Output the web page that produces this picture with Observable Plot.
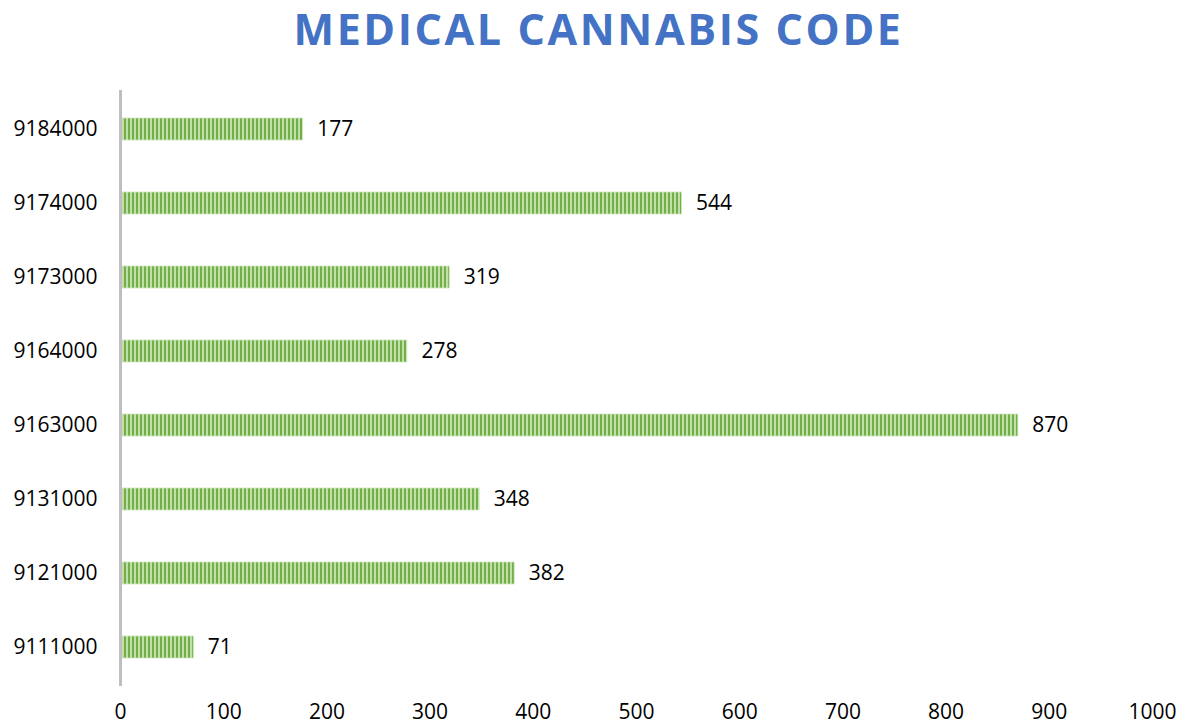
<!DOCTYPE html>
<html>
<head>
<meta charset="utf-8">
<script src="https://cdn.jsdelivr.net/npm/d3@7"></script>
<script src="https://cdn.jsdelivr.net/npm/@observablehq/plot@0.6"></script>
<style>
  html, body { margin: 0; padding: 0; background: #fff; }
  #title {
    font-family: "Open Sans", sans-serif;
    font-weight: 700;
    font-size: 43px;
    line-height: 58px;
    height: 58px;
    margin-bottom: 12px;
    letter-spacing: 2.6px;
    color: #4472C4;
    text-align: center;
    width: 1189px;
    padding-left: 8px;
    box-sizing: border-box;
  }
  #chart svg { display: block; }
</style>
</head>
<body>
<div id="title">MEDICAL CANNABIS CODE</div>
<div id="chart"></div>
<script>
const codes = ["9184000", "9174000", "9173000", "9164000", "9163000", "9131000", "9121000", "9111000"];
const counts = [177, 544, 319, 278, 870, 348, 382, 71];
const xTicks = [0, 100, 200, 300, 400, 500, 600, 700, 800, 900, 1000];

const data = codes.map((c, i) => ({code: c, count: counts[i]}));

const chart = Plot.plot({
  width: 1189,
  height: 656,
  marginLeft: 120,
  marginRight: 37,
  marginTop: 20,
  marginBottom: 40,
  style: {fontFamily: "'Open Sans', sans-serif", fontSize: "21px", color: "#000", background: "#fff"},
  x: {domain: [0, 1000], ticks: xTicks, tickSize: 0, tickPadding: 18, label: null, tickFormat: d => String(d)},
  y: {domain: codes, paddingInner: 0.7, paddingOuter: 0.35, tickSize: 0, tickPadding: 23, label: null},
  marks: [
    Plot.barX(data, {x: "count", y: "code", fill: "url(#stripes)", stroke: "#cfe6bf", strokeWidth: 0.8}),
    Plot.ruleX([0], {stroke: "#bfbfbf", strokeWidth: 3}),
    Plot.text(data, {x: "count", y: "code", text: d => String(d.count), textAnchor: "start", dx: 14, fill: "#000", fontSize: 21})
  ]
});

// striped pattern for bars
const ns = "http://www.w3.org/2000/svg";
const defs = document.createElementNS(ns, "defs");
const pat = document.createElementNS(ns, "pattern");
pat.setAttribute("id", "stripes");
pat.setAttribute("patternUnits", "userSpaceOnUse");
pat.setAttribute("width", "4");
pat.setAttribute("height", "4");
const r1 = document.createElementNS(ns, "rect");
r1.setAttribute("width", "4"); r1.setAttribute("height", "4"); r1.setAttribute("fill", "#c0dfa9");
const r2 = document.createElementNS(ns, "rect");
r2.setAttribute("width", "2"); r2.setAttribute("height", "4"); r2.setAttribute("fill", "#72af48");
pat.appendChild(r1); pat.appendChild(r2);
defs.appendChild(pat);
chart.insertBefore(defs, chart.firstChild);

document.getElementById("chart").appendChild(chart);
</script>
</body>
</html>
